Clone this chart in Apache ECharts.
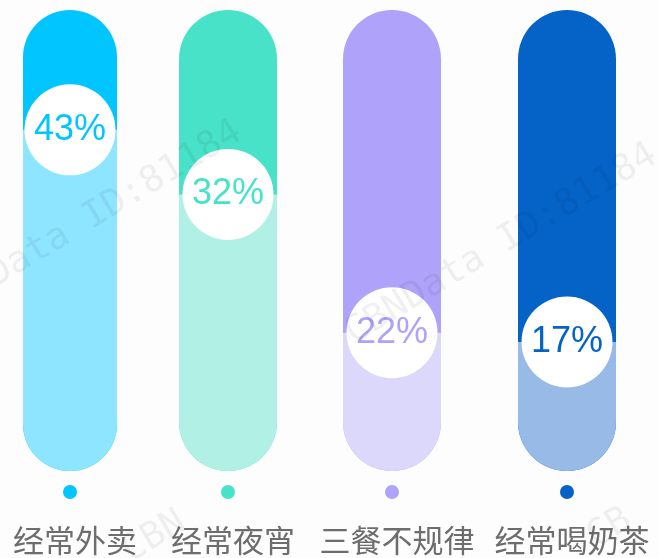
<!DOCTYPE html>
<html>
<head>
<meta charset="utf-8">
<script src="https://cdn.jsdelivr.net/npm/echarts@6/dist/echarts.min.js"></script>
<style>
  html, body { margin: 0; padding: 0; background: #fdfdfd; }
  #chart { width: 659px; height: 558px; }
</style>
</head>
<body>
<div id="chart"></div>
<script>
// Chart data
const categories = ['经常外卖', '经常夜宵', '三餐不规律', '经常喝奶茶'];
const shares = [43, 32, 22, 17];          // percent shown in the circles
const levels = [74, 60, 30, 28];          // height of the light fill (0-100 scale)
const fullLevel = [100, 100, 100, 100];   // full pill height

const darkColors = ['#00c5ff', '#48e2c8', '#afa2fa', '#0563c8'];
const lightColors = ['#8ee5ff', '#b1f0e4', '#dcd8fc', '#97bae6'];

// Layout: one grid per pill
const barCenters = [67, 228, 392, 567];
const pillWidth = 98;

const chart = echarts.init(document.getElementById('chart'));

const grids = [];
const xAxes = [];
const yAxes = [];
const series = [];

categories.forEach(function (name, i) {
    grids.push({
        left: barCenters[i] - 50,
        width: 100,
        top: 10,
        bottom: 87
    });

    xAxes.push({
        type: 'category',
        gridIndex: i,
        data: [name],
        axisLine: { show: false },
        axisTick: { show: false },
        axisLabel: {
            margin: 14,
            interval: 0,
            formatter: function (v) {
                return '{dot| }\n{name|' + v + '}';
            },
            rich: {
                dot: {
                    width: 14,
                    height: 14,
                    lineHeight: 14,
                    borderRadius: 7,
                    backgroundColor: darkColors[i]
                },
                name: {
                    fontSize: 31,
                    lineHeight: 82,
                    color: '#6d6d6d',
                    fontFamily: 'Noto Sans CJK SC',
                    padding: [0, 0, 0, 10]
                }
            }
        }
    });

    yAxes.push({
        type: 'value',
        gridIndex: i,
        min: 0,
        max: 100,
        show: false
    });

    // dark pill background
    series.push({
        type: 'bar',
        xAxisIndex: i,
        yAxisIndex: i,
        data: [fullLevel[i]],
        barWidth: pillWidth,
        silent: true,
        itemStyle: { color: darkColors[i], borderRadius: pillWidth / 2 }
    });

    // light fill from the bottom
    series.push({
        type: 'bar',
        xAxisIndex: i,
        yAxisIndex: i,
        data: [levels[i]],
        barWidth: pillWidth,
        barGap: '-100%',
        silent: true,
        itemStyle: {
            color: lightColors[i],
            borderRadius: [0, 0, pillWidth / 2, pillWidth / 2]
        }
    });

    // white circle with the share value
    series.push({
        type: 'scatter',
        xAxisIndex: i,
        yAxisIndex: i,
        data: [levels[i]],
        symbolSize: 91,
        silent: true,
        z: 5,
        itemStyle: { color: '#ffffff', opacity: 1 },
        label: {
            show: true,
            position: 'inside',
            formatter: shares[i] + '%',
            color: darkColors[i],
            fontSize: 36,
            fontFamily: 'Liberation Sans'
        }
    });
});

// faint watermark
const watermarks = [
    { x: -57, y: 329, text: 'CBNData ID:81184' },
    { x: 358, y: 352, text: 'CBNData ID:81184' },
    { x: 135, y: 570, text: 'CBN' },
    { x: 600, y: 556, text: 'CB' }
];

const option = {
    backgroundColor: '#fdfdfd',
    animation: false,
    grid: grids,
    xAxis: xAxes,
    yAxis: yAxes,
    series: series,
    graphic: watermarks.map(function (p) {
        return {
            type: 'text',
            x: p.x,
            y: p.y,
            rotation: 31 * Math.PI / 180,
            z: 100,
            silent: true,
            style: {
                text: p.text,
                fill: 'rgba(0,0,0,0.06)',
                font: '37px "DejaVu Sans Mono"',
                textVerticalAlign: 'bottom'
            }
        };
    })
};

chart.setOption(option);
</script>
</body>
</html>
